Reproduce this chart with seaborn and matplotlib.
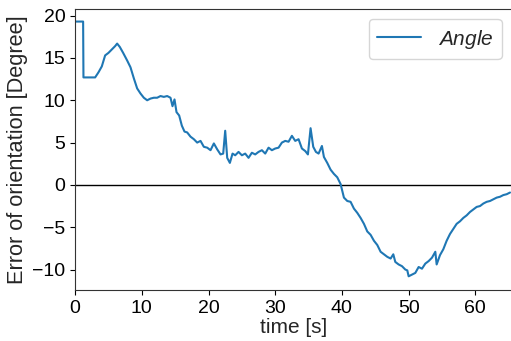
import matplotlib
matplotlib.use("Agg")
import matplotlib.pyplot as plt
import seaborn as sns
import pandas as pd

time_s = [0, 1.2, 1.25, 3.0, 3.5, 4.0, 4.5, 5.0, 5.5, 6.0,
          6.3, 6.7, 7.2, 7.8, 8.3, 8.8, 9.3, 9.8, 10.3, 10.8,
          11.3, 11.8, 12.3, 12.8, 13.3, 13.8, 14.3, 14.6, 14.9, 15.2,
          15.6, 16.0, 16.4, 16.8, 17.3, 17.8, 18.3, 18.8, 19.3, 19.8,
          20.3, 20.8, 21.3, 21.8, 22.2, 22.5, 22.8, 23.2, 23.6, 24.0,
          24.5, 25.0, 25.5, 26.0, 26.5, 27.0, 27.5, 28.0, 28.5, 29.0,
          29.5, 30.0, 30.5, 31.0, 31.5, 32.0, 32.5, 33.0, 33.5, 34.0,
          34.5, 34.9, 35.3, 35.7, 36.1, 36.5, 37.0, 37.3, 37.8, 38.3,
          38.8, 39.3, 39.8, 40.3, 40.8, 41.3, 41.8, 42.3, 42.8, 43.3,
          43.8, 44.3, 44.8, 45.3, 45.8, 46.3, 46.8, 47.3, 47.7, 48.0,
          48.5, 49.0, 49.5, 49.8, 50.0, 50.5, 51.0, 51.5, 52.0, 52.5,
          53.0, 53.5, 54.0, 54.2, 54.7, 55.2, 55.7, 56.2, 56.7, 57.2,
          57.7, 58.2, 58.7, 59.2, 59.7, 60.2, 60.7, 61.2, 61.7, 62.2,
          62.7, 63.2, 63.7, 64.2, 64.7, 65.2]

angle_deg = [19.3, 19.3, 12.7, 12.7, 13.3, 14.0, 15.3, 15.6, 16.0, 16.4,
             16.7, 16.3, 15.6, 14.7, 13.9, 12.6, 11.4, 10.8, 10.3, 10.0,
             10.2, 10.3, 10.3, 10.5, 10.4, 10.5, 10.3, 9.3, 10.1, 8.6,
             8.2, 7.0, 6.3, 6.2, 5.7, 5.4, 5.0, 5.2, 4.5, 4.4,
             4.1, 4.9, 4.2, 3.6, 3.7, 6.4, 3.2, 2.6, 3.7, 3.5,
             3.9, 3.5, 3.7, 3.2, 3.8, 3.6, 3.9, 4.1, 3.7, 4.4,
             4.1, 4.3, 4.4, 5.0, 5.2, 5.1, 5.8, 5.2, 5.4, 4.3,
             4.0, 3.6, 6.7, 4.5, 3.9, 3.7, 4.6, 3.3, 2.6, 1.8,
             1.3, 0.9, 0.1, -1.5, -1.9, -2.0, -2.8, -3.3, -3.9, -4.6,
             -5.5, -5.9, -6.6, -7.1, -7.9, -8.2, -8.5, -8.7, -8.2, -9.1,
             -9.4, -9.6, -10.0, -10.1, -10.8, -10.6, -10.4, -9.7, -9.9, -9.3,
             -9.0, -8.6, -7.9, -9.4, -8.3, -7.6, -6.6, -5.8, -5.2, -4.6,
             -4.3, -3.9, -3.6, -3.2, -2.9, -2.6, -2.5, -2.2, -2.0, -1.9,
             -1.7, -1.5, -1.4, -1.2, -1.1, -0.9]

x_ticks = [0, 10, 20, 30, 40, 50, 60]
y_ticks = [-10, -5, 0, 5, 10, 15, 20]

sns.set_style("ticks")
plt.rcParams["font.family"] = ["Liberation Sans", "DejaVu Sans"]
plt.rcParams["mathtext.fontset"] = "custom"
plt.rcParams["mathtext.it"] = "Liberation Sans:italic"
plt.rcParams["mathtext.rm"] = "Liberation Sans"

df = pd.DataFrame({"time": time_s, "angle": angle_deg})

fig = plt.figure(figsize=(5.11, 3.41), dpi=100)
ax = fig.add_axes([0.147, 0.150, 0.855, 0.824])
sns.lineplot(data=df, x="time", y="angle", ax=ax, color="#1f77b4",
             linewidth=1.5, estimator=None, label="$Angle$")
ax.axhline(0, color="black", linewidth=1.0, zorder=1)
ax.set_xlim(0, 65.5)
ax.set_ylim(-12.4, 20.8)
ax.set_xticks(x_ticks)
ax.set_yticks(y_ticks)
ax.tick_params(labelsize=14, colors="black")
for s in ax.spines.values():
    s.set_visible(True)
    s.set_color("#333333")
ax.set_xlabel("time [s]", fontsize=15, labelpad=1)
ax.set_ylabel("Error of orientation [Degree]", fontsize=15.7, labelpad=3)
ax.legend(loc="upper right", fontsize=15, handlelength=2.1)
fig.savefig("out.png", dpi=100)
